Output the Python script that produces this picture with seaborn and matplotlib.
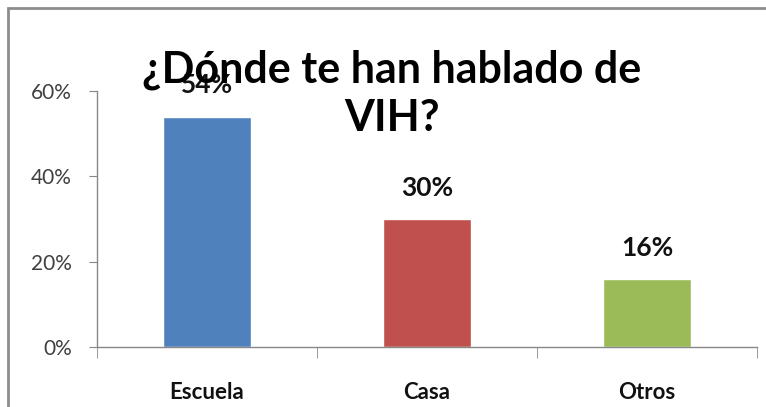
import pandas as pd
import matplotlib
matplotlib.use("Agg")
import matplotlib.pyplot as plt
import seaborn as sns
from matplotlib.patches import Rectangle

# data
categories = ["Escuela", "Casa", "Otros"]
shares = [0.54, 0.30, 0.16]
labels = ["54%", "30%", "16%"]
colors = ["#4F81BD", "#C0504D", "#9BBB59"]
title = "¿Dónde te han hablado de\nVIH?"

df = pd.DataFrame({"lugar": categories, "pct": shares})

sns.set_style("white")
plt.rcParams["font.family"] = ["Lato", "DejaVu Sans"]

fig = plt.figure(figsize=(7.66, 4.07), dpi=100)
ax = fig.add_axes([97 / 766, 60 / 407, 660 / 766, 256 / 407])

sns.barplot(data=df, x="lugar", y="pct", hue="lugar", palette=colors,
            width=0.4, legend=False, ax=ax, saturation=1)

ax.set_ylim(0, 0.6)
ax.set_xlim(-0.5, 2.5)
ax.set_yticks([0, 0.2, 0.4, 0.6])
ax.set_yticklabels(["0%", "20%", "40%", "60%"], fontsize=15, color="#404040")
ax.set_xticks([0, 1, 2])
ax.set_xticklabels(categories, fontsize=16, fontweight="bold", color="#111111")
ax.tick_params(axis="x", length=0, pad=25)
ax.tick_params(axis="y", length=6, left=True, color="#888888", pad=12)
# category separator ticks
ax.set_xticks([-0.5, 0.5, 1.5, 2.5], minor=True)
ax.tick_params(axis="x", which="minor", length=8, bottom=True, color="#888888")
ax.set_xlabel("")
ax.set_ylabel("")

for s in ["top", "right"]:
    ax.spines[s].set_visible(False)
for s in ["left", "bottom"]:
    ax.spines[s].set_color("#888888")
    ax.spines[s].set_linewidth(1)

for i, (v, t) in enumerate(zip(shares, labels)):
    ax.text(i, v + 0.045, t, ha="center", va="bottom", fontsize=19,
            fontweight="bold", color="#111111")

fig.text(392 / 766, 1 - 94 / 407, title, ha="center", va="center",
         fontsize=31, fontweight="bold", color="#000000", linespacing=1.25)

# outer chart border (cropped Excel frame)
fig.patches.append(Rectangle((8 / 766, -0.1), 1.2, (399 / 407) + 0.1,
                             transform=fig.transFigure, fill=False,
                             edgecolor="#8c8c8c", linewidth=2))

fig.savefig("out.png", dpi=100)
